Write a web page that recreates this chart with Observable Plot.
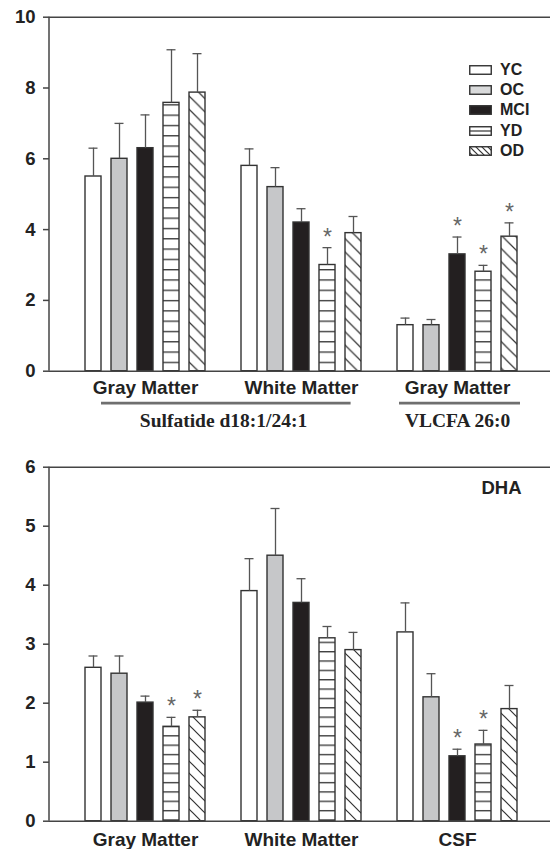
<!DOCTYPE html>
<html><head><meta charset="utf-8">
<script src="https://cdn.jsdelivr.net/npm/d3@7"></script>
<script src="https://cdn.jsdelivr.net/npm/@observablehq/plot@0.6"></script>
<style>
body{margin:0;background:#fff;}
#wrap{position:relative;width:550px;height:849px;}
#wrap > svg{display:block;}
.legend{position:absolute;left:469px;top:60px;font:bold 16px "Liberation Sans",Arial,sans-serif;color:#222;}
.legend .row{display:flex;align-items:center;height:20.2px;}
.legend .row svg{margin-right:8px;display:block;}
</style></head><body><div id="wrap"></div>
<script>
// ---------- data ----------
const series = ["YC", "OC", "MCI", "YD", "OD"];

// top panel: Sulfatide d18:1/24:1 (gray, white matter) and VLCFA 26:0 (gray matter)
const topGroupLabels = ["Gray Matter", "White Matter", "Gray Matter"];
const topGrayMean  = [5.5, 6.0, 6.3, 7.58, 7.87];
const topGraySem   = [0.8, 1.0, 0.94, 1.5, 1.1];
const topGraySig   = [false, false, false, false, false];
const topWhiteMean = [5.8, 5.2, 4.2, 3.0, 3.9];
const topWhiteSem  = [0.48, 0.55, 0.39, 0.49, 0.47];
const topWhiteSig  = [false, false, false, true, false];
const topVlcfaMean = [1.3, 1.3, 3.3, 2.81, 3.8];
const topVlcfaSem  = [0.2, 0.16, 0.49, 0.18, 0.39];
const topVlcfaSig  = [false, false, true, true, true];
const topCategories = ["Sulfatide d18:1/24:1", "VLCFA 26:0"];
const topTicks = [0, 2, 4, 6, 8, 10];

// bottom panel: DHA
const botGroupLabels = ["Gray Matter", "White Matter", "CSF"];
const botGrayMean  = [2.6, 2.5, 2.01, 1.6, 1.76];
const botGraySem   = [0.2, 0.3, 0.11, 0.16, 0.12];
const botGraySig   = [false, false, false, true, true];
const botWhiteMean = [3.9, 4.5, 3.7, 3.1, 2.9];
const botWhiteSem  = [0.55, 0.8, 0.41, 0.2, 0.3];
const botWhiteSig  = [false, false, false, false, false];
const botCsfMean   = [3.2, 2.1, 1.1, 1.3, 1.9];
const botCsfSem    = [0.5, 0.4, 0.12, 0.24, 0.4];
const botCsfSig    = [false, false, true, true, false];
const botTitle = "DHA";
const botTicks = [0, 1, 2, 3, 4, 5, 6];

// ---------- helpers ----------
const groupKeys = ["G1", "G2", "G3"];
const slotDomain = [
  ...series.map(s => "G1|" + s), "S1",
  ...series.map(s => "G2|" + s), "S2",
  ...series.map(s => "G3|" + s)
];
function rows(means, sems, sigs) {
  const out = [];
  means.forEach((m, gi) => m.forEach((v, si) => out.push({
    slot: groupKeys[gi] + "|" + series[si], series: series[si],
    mean: v, upper: v + sems[gi][si], sig: sigs[gi][si]
  })));
  return out;
}
const topData = rows([topGrayMean, topWhiteMean, topVlcfaMean], [topGraySem, topWhiteSem, topVlcfaSem], [topGraySig, topWhiteSig, topVlcfaSig]);
const botData = rows([botGrayMean, botWhiteMean, botCsfMean], [botGraySem, botWhiteSem, botCsfSem], [botGraySig, botWhiteSig, botCsfSig]);

const SANS = '"Liberation Sans", Arial, Helvetica, sans-serif';
const SERIF = '"Liberation Serif", "Times New Roman", serif';

function fills(p) {
  return {YC: "#ffffff", OC: "#c6c7c9", MCI: "#231f20", YD: `url(#${p}H)`, OD: `url(#${p}D)`};
}

function addDefs(svg, p, hStep, hOff, dStep) {
  const defs = d3.select(svg).insert("defs", ":first-child");
  const ph = defs.append("pattern").attr("id", p + "H").attr("patternUnits", "userSpaceOnUse")
    .attr("width", 10).attr("height", hStep).attr("y", hOff);
  ph.append("rect").attr("width", 10).attr("height", hStep).attr("fill", "#fff");
  ph.append("line").attr("x1", 0).attr("x2", 10).attr("y1", 0.7).attr("y2", 0.7)
    .attr("stroke", "#333").attr("stroke-width", 1.3);
  const s = dStep;
  const pd = defs.append("pattern").attr("id", p + "D").attr("patternUnits", "userSpaceOnUse")
    .attr("width", s).attr("height", s);
  pd.append("rect").attr("width", s).attr("height", s).attr("fill", "#fff");
  pd.append("path").attr("d", `M0,0L${s},${s}M-1,${s - 1}L1,${s + 1}M${s - 1},-1L${s + 1},1`)
    .attr("stroke", "#333").attr("stroke-width", 1.2).attr("fill", "none");
}

const leftLine = (index, scales, values, dims) =>
  d3.create("svg:line")
    .attr("x1", dims.marginLeft).attr("x2", dims.marginLeft)
    .attr("y1", dims.marginTop).attr("y2", dims.height - dims.marginBottom)
    .attr("stroke", "#444").attr("stroke-width", 1.5).node();

function panel({height, marginTop, marginBottom, yMax, ticks, data, groupLabels, prefix, labelDy, extra}) {
  const f = fills(prefix);
  const labelRows = groupLabels.map((t, i) => ({slot: groupKeys[i] + "|MCI", text: t}));
  return Plot.plot({
    width: 550, height, marginLeft: 49, marginRight: 0, marginTop, marginBottom,
    x: {type: "band", domain: slotDomain, padding: 0.37, insetLeft: 18, insetRight: 14.6, axis: null},
    y: {domain: [0, yMax], axis: null},
    style: {fontFamily: SANS, fontSize: "18px", fontWeight: "bold", color: "#222", background: "#fff", overflow: "visible"},
    marks: [
      ...series.map(s => Plot.barY(data.filter(d => d.series === s), {
        x: "slot", y: "mean", fill: f[s], stroke: "#333", strokeWidth: 1.4
      })),
      Plot.ruleX(data, {x: "slot", y1: "mean", y2: "upper", stroke: "#555", strokeWidth: 1.3}),
      Plot.tickY(data, {x: "slot", y: "upper", stroke: "#555", strokeWidth: 1.3, insetLeft: 3.5, insetRight: 3.5}),
      Plot.text(data.filter(d => d.sig), {
        x: "slot", y: "upper", text: () => "*", dy: -3, lineAnchor: "bottom",
        fill: "#666", fontSize: 23, fontWeight: "normal"
      }),
      Plot.ruleY([0, yMax], {stroke: "#444", strokeWidth: 1.5}),
      leftLine,
      Plot.axisY({ticks, tickSize: 6, tickPadding: 8, tickFormat: d => String(d), label: null,
        color: "#222", stroke: "#444", strokeWidth: 1.5, fontSize: 18.5, fontWeight: "bold"}),
      Plot.text(labelRows, {
        x: "slot", text: "text", frameAnchor: "bottom", lineAnchor: "bottom", dy: labelDy,
        fontSize: 19, fontWeight: "bold", fill: "#222"
      }),
      ...extra
    ]
  });
}

// underline function mark for the top panel categories
const underlines = (index, scales, values, dims) => {
  const x = scales.x;
  const bw = typeof x.bandwidth === "function" ? x.bandwidth() : x.bandwidth;
  const y = dims.height - dims.marginBottom + 32.5;
  const g = d3.create("svg:g").attr("stroke", "#6f6f6f").attr("stroke-width", 2.7);
  g.append("line").attr("x1", x("G1|YC") + bw).attr("x2", x("G2|OD") + bw * 0.35).attr("y1", y).attr("y2", y);
  g.append("line").attr("x1", x("G3|YC") + 2).attr("x2", x("G3|OD") + bw + 3).attr("y1", y).attr("y2", y);
  return g.node();
};

const wrap = document.getElementById("wrap");

const topSvg = panel({
  height: 440, marginTop: 16.7, marginBottom: 69.3, yMax: 10, ticks: topTicks,
  data: topData, groupLabels: topGroupLabels, prefix: "t", labelDy: 23,
  extra: [
    underlines,
    Plot.text([{slot: "S1", text: topCategories[0]}, {slot: "G3|MCI", text: topCategories[1]}], {
      x: "slot", text: "text", frameAnchor: "bottom", lineAnchor: "bottom", dy: 56,
      fontFamily: SERIF, fontSize: 19.5, fontWeight: "bold", fill: "#222"
    })
  ]
});
addDefs(topSvg, "t", 10.3, 1.2, 13.3);
wrap.appendChild(topSvg);

const botSvg = panel({
  height: 409, marginTop: 26.7, marginBottom: 28.3, yMax: 6, ticks: botTicks,
  data: botData, groupLabels: botGroupLabels, prefix: "b", labelDy: 24.5,
  extra: [
    Plot.text([botTitle], {
      text: d => d, frameAnchor: "top-right", textAnchor: "end", lineAnchor: "bottom",
      dx: -29, dy: 26.3, fontSize: 18.5, fontWeight: "bold", fill: "#222"
    })
  ]
});
addDefs(botSvg, "b", 9.35, 5.3, 12);
wrap.appendChild(botSvg);

// legend (inside the top panel, upper right)
const legend = document.createElement("div");
legend.className = "legend";
const lf = fills("t");
legend.innerHTML = `<svg width="0" height="0" style="position:absolute"><defs>
<pattern id="lgD" patternUnits="userSpaceOnUse" width="6" height="6"><rect width="6" height="6" fill="#fff"/><path d="M0,0L6,6M-1,5L1,7M5,-1L7,1" stroke="#333" stroke-width="1.2"/></pattern></defs></svg>` +
  series.map(s => {
    let inner;
    if (s === "YD") inner = `<rect x="0.75" y="0.75" width="21.5" height="8.5" fill="#fff" stroke="#333" stroke-width="1.4"/><line x1="0.75" x2="22.25" y1="5" y2="5" stroke="#333" stroke-width="1.2"/>`;
    else if (s === "OD") inner = `<rect x="0.75" y="0.75" width="21.5" height="8.5" fill="url(#lgD)" stroke="#333" stroke-width="1.4"/>`;
    else inner = `<rect x="0.75" y="0.75" width="21.5" height="8.5" fill="${s === "OC" ? "#d9dadb" : lf[s]}" stroke="#333" stroke-width="1.4"/>`;
    return `<div class="row"><svg width="23" height="10">${inner}</svg><span>${s}</span></div>`;
  }).join("");
wrap.appendChild(legend);
</script>
</body></html>
